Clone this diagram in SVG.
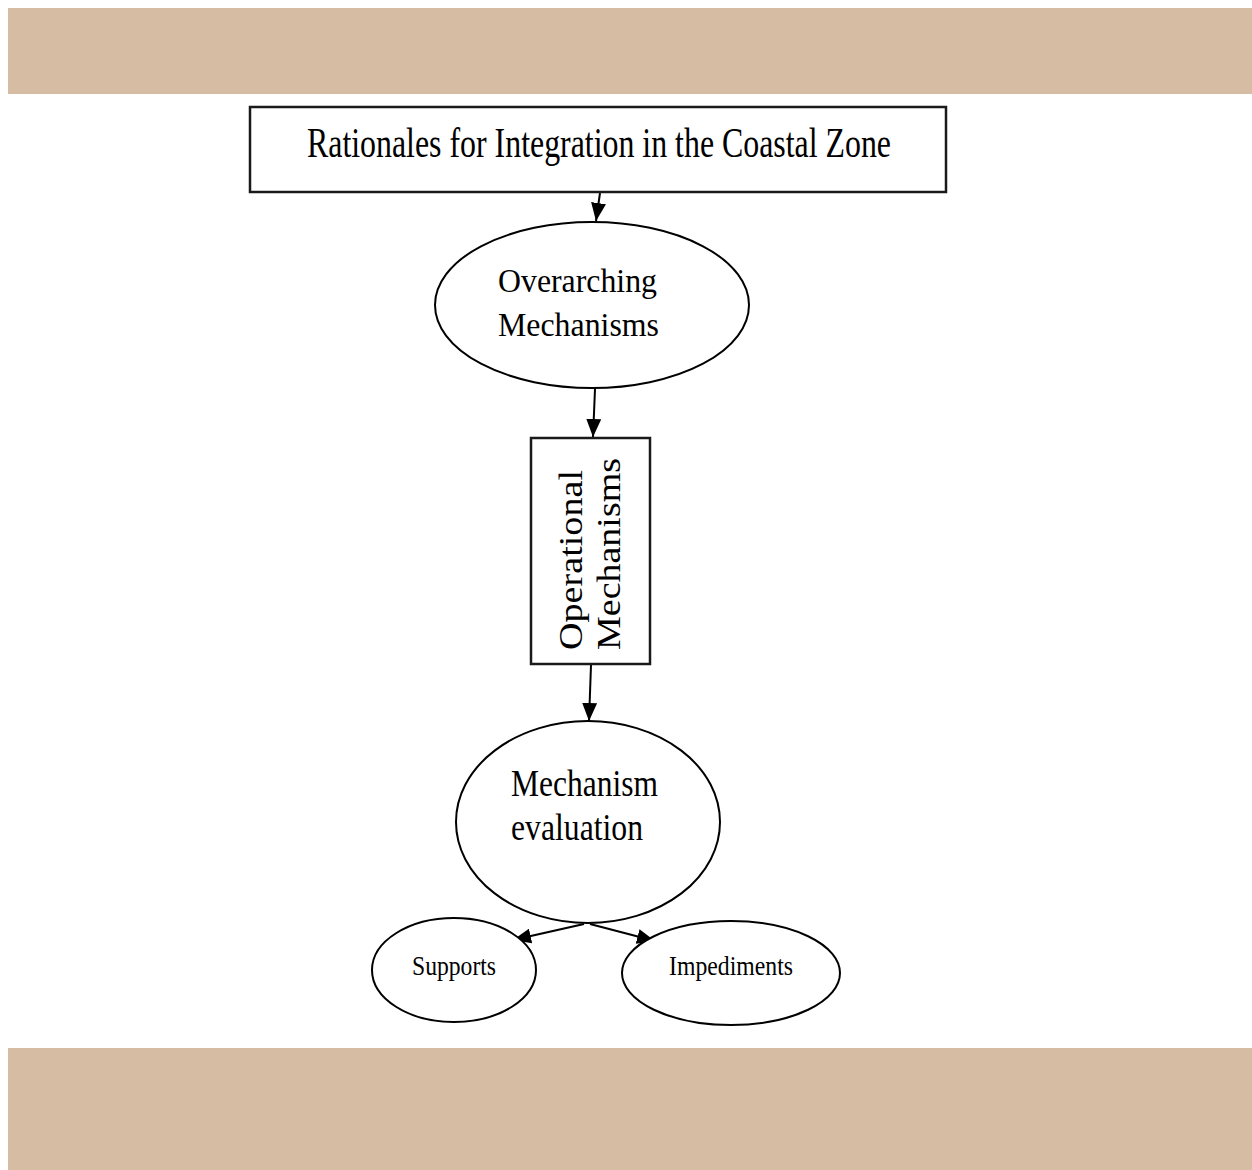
<svg xmlns="http://www.w3.org/2000/svg" width="1252" height="1170" viewBox="0 0 1252 1170">
<style>
.shape{fill:#fff;stroke:#000;stroke-width:2}
.box{fill:#fff;stroke:#1a1a1a;stroke-width:2.5}
.t{font-family:"Liberation Serif","Times New Roman",serif;fill:#000}
.edge{stroke:#000;stroke-width:2;fill:none;marker-end:url(#ah)}
</style>
<defs>
<marker id="ah" markerUnits="userSpaceOnUse" markerWidth="18" markerHeight="15" refX="18" refY="7.5" orient="auto">
<path d="M0,0 L18,7.5 L0,15 z" fill="#000"/>
</marker>
</defs>
<rect x="0" y="0" width="1252" height="1170" fill="#fff"/>
<rect x="8" y="8" width="1244" height="86" fill="#d5bca2"/>
<rect x="8" y="1048" width="1244" height="122" fill="#d5bca2"/>
<g id="connectors">
<line class="edge" x1="600" y1="193" x2="596" y2="221"/>
<line class="edge" x1="595" y1="389" x2="593" y2="437"/>
<line class="edge" x1="591" y1="665" x2="589" y2="721"/>
<line class="edge" x1="584" y1="924" x2="513" y2="940"/>
<line class="edge" x1="590" y1="924" x2="655" y2="941"/>
</g>
<g id="rationales">
<rect class="box" x="250" y="107" width="696" height="85"/>
<text class="t" x="307" y="157" font-size="42" textLength="584" lengthAdjust="spacingAndGlyphs">Rationales for Integration in the Coastal Zone</text>
</g>
<g id="overarching">
<ellipse class="shape" cx="592" cy="305" rx="157" ry="83"/>
<text class="t" x="498" y="292" font-size="34" textLength="159" lengthAdjust="spacingAndGlyphs">Overarching</text>
<text class="t" x="498" y="336" font-size="34" textLength="161" lengthAdjust="spacingAndGlyphs">Mechanisms</text>
</g>
<g id="operational">
<rect class="box" x="531" y="438" width="119" height="226"/>
<text class="t" transform="translate(582,650) rotate(-90)" font-size="34" textLength="180" lengthAdjust="spacingAndGlyphs">Operational</text>
<text class="t" transform="translate(620,650) rotate(-90)" font-size="34" textLength="192" lengthAdjust="spacingAndGlyphs">Mechanisms</text>
</g>
<g id="evaluation">
<ellipse class="shape" cx="588" cy="822" rx="132" ry="101"/>
<text class="t" x="511" y="796" font-size="37" textLength="147" lengthAdjust="spacingAndGlyphs">Mechanism</text>
<text class="t" x="511" y="840" font-size="37" textLength="132" lengthAdjust="spacingAndGlyphs">evaluation</text>
</g>
<g id="supports">
<ellipse class="shape" cx="454" cy="970" rx="82" ry="52"/>
<text class="t" x="412" y="975" font-size="28" textLength="84" lengthAdjust="spacingAndGlyphs">Supports</text>
</g>
<g id="impediments">
<ellipse class="shape" cx="731" cy="973" rx="109" ry="52"/>
<text class="t" x="669" y="975" font-size="28" textLength="124" lengthAdjust="spacingAndGlyphs">Impediments</text>
</g>
</svg>
